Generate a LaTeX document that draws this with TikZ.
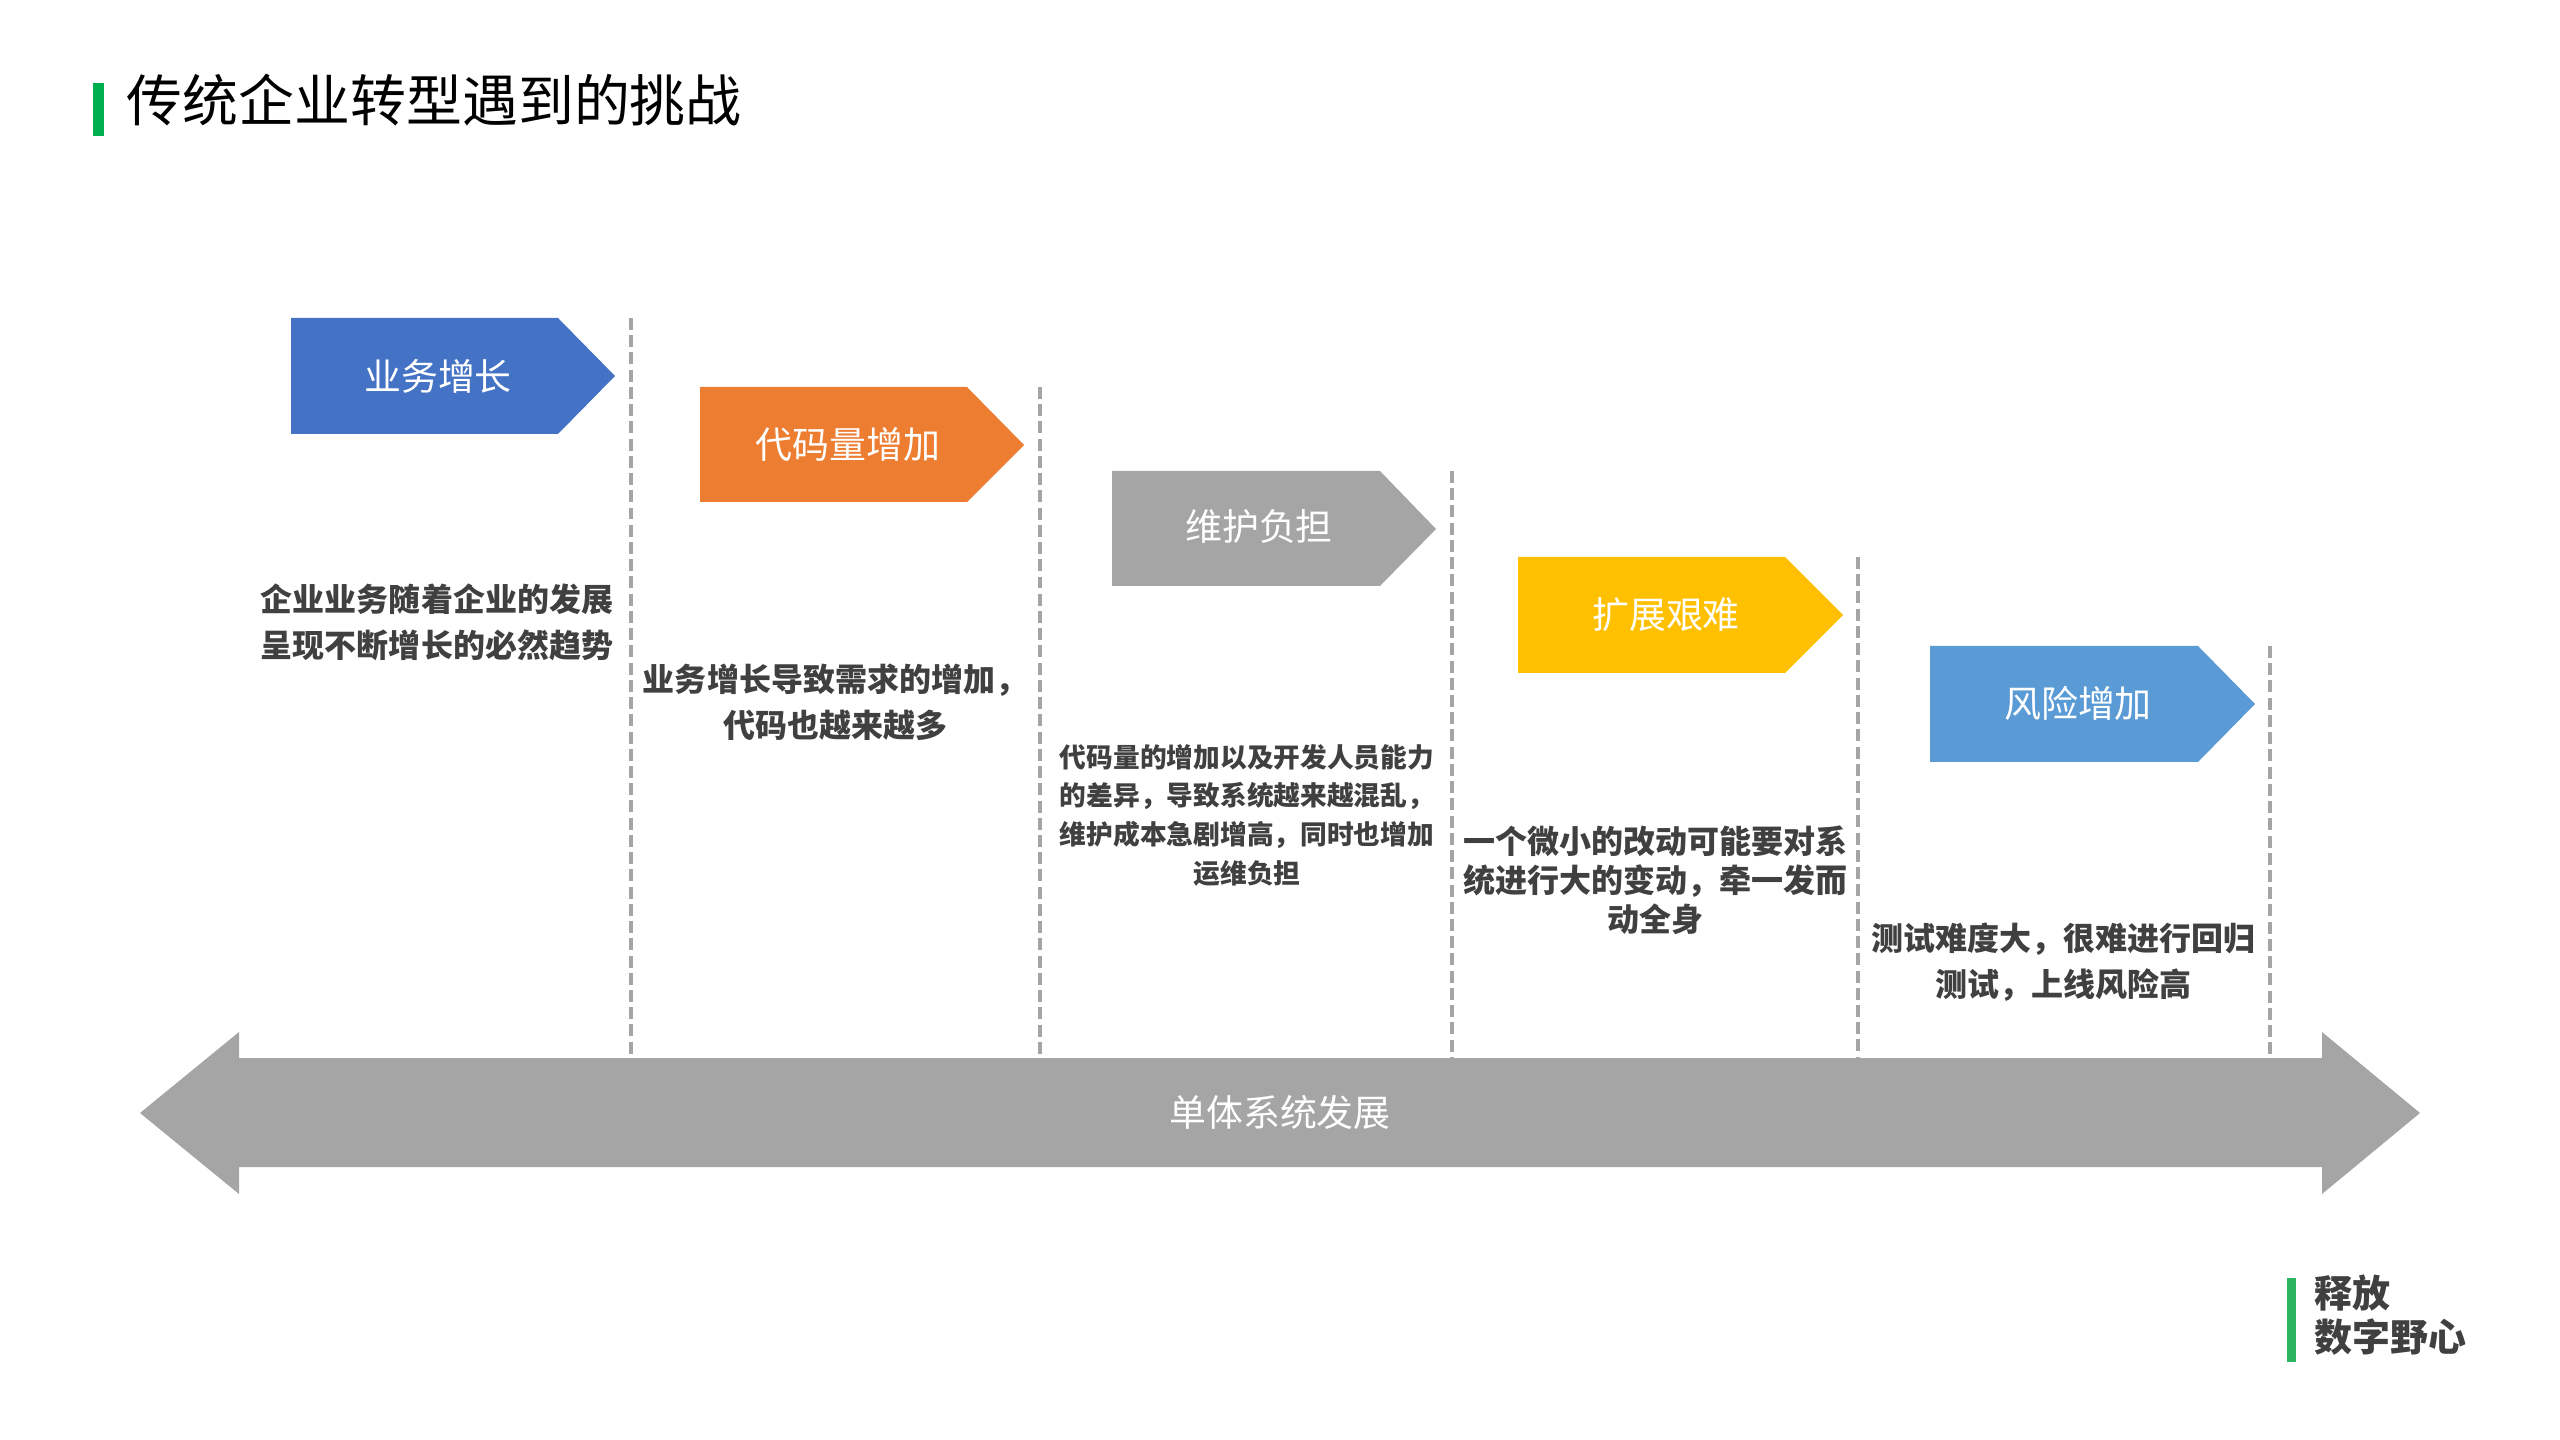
\documentclass[tikz,border=0pt]{standalone}
\usepackage{fontspec}
\usepackage{xcolor}
\setmainfont{Noto Sans CJK SC}
\definecolor{stepblue}{HTML}{4472C4}
\definecolor{steporange}{HTML}{ED7D31}
\definecolor{stepgray}{HTML}{A5A5A5}
\definecolor{stepyellow}{HTML}{FFC000}
\definecolor{stepsky}{HTML}{5B9BD5}
\definecolor{bargreen}{HTML}{00B050}
\definecolor{markgreen}{HTML}{2BB45E}
\definecolor{bodygray}{HTML}{404040}
\tikzset{
    steplabel/.style={text=white,inner sep=0pt,font=\fontsize{10.5}{12}\selectfont},
    bodytext/.style={text=bodygray,inner sep=0pt,align=center},
    bodywide/.style={bodytext,font=\fontsize{9.1}{13.1}\selectfont\bfseries},
    bodytight/.style={bodytext,font=\fontsize{9.1}{11.1}\selectfont\bfseries},
    bodysmall/.style={bodytext,font=\fontsize{7.6}{11}\selectfont\bfseries},
    separator/.style={stepgray,line width=1pt,dash pattern=on 3.4pt off 1.5pt}
}

\begin{document}
\begin{tikzpicture}[x=0.01cm,y=-0.01cm]
    \useasboundingbox (0,0) rectangle (2560,1440);
    \fill[white] (0,0) rectangle (2560,1440);

    % title
    \fill[bargreen] (93,83) rectangle (104,136);
    \node[anchor=west,inner sep=0pt,font=\fontsize{15.9}{18}\selectfont] (title) at (126,100) {传统企业转型遇到的挑战};

    % separators
    \coordinate (sepatop) at (631,318);
    \coordinate (sepabot) at (631,1058);
    \coordinate (sepbtop) at (1040,387);
    \coordinate (sepbbot) at (1040,1058);
    \coordinate (sepctop) at (1452,471);
    \coordinate (sepcbot) at (1452,1058);
    \coordinate (sepdtop) at (1858,557);
    \coordinate (sepdbot) at (1858,1058);
    \coordinate (sepetop) at (2270,646);
    \coordinate (sepebot) at (2270,1058);
    \draw[separator] (sepatop) -- (sepabot);
    \draw[separator] (sepbtop) -- (sepbbot);
    \draw[separator] (sepctop) -- (sepcbot);
    \draw[separator] (sepdtop) -- (sepdbot);
    \draw[separator] (sepetop) -- (sepebot);

    % steps
    \fill[stepblue] (291,318) -- (558,318) -- (615,376) -- (558,434) -- (291,434) -- cycle;
    \node[steplabel] (growth) at (438,376) {业务增长};
    \fill[steporange] (700,387) -- (967,387) -- (1024,445) -- (967,502) -- (700,502) -- cycle;
    \node[steplabel] (code) at (848,444) {代码量增加};
    \fill[stepgray] (1112,471) -- (1380,471) -- (1436,529) -- (1380,586) -- (1112,586) -- cycle;
    \node[steplabel] (upkeep) at (1259,527) {维护负担};
    \fill[stepyellow] (1518,557) -- (1785,557) -- (1843,615) -- (1785,673) -- (1518,673) -- cycle;
    \node[steplabel] (scale) at (1666,615) {扩展艰难};
    \fill[stepsky] (1930,646) -- (2198,646) -- (2255,704) -- (2198,762) -- (1930,762) -- cycle;
    \node[steplabel] (risk) at (2078,703) {风险增加};

    % descriptions
    \node[bodywide] (growthtext) at (437,622) {企业业务随着企业的发展\\呈现不断增长的必然趋势};
    \node[bodywide] (codetext) at (835,702) {业务增长导致需求的增加，\\代码也越来越多};
    \node[bodysmall] (upkeeptext) at (1247,815) {代码量的增加以及开发人员能力\\的差异，导致系统越来越混乱，\\维护成本急剧增高，同时也增加\\运维负担};
    \node[bodytight] (scaletext) at (1655,880) {一个微小的改动可能要对系\\统进行大的变动，牵一发而\\动全身};
    \node[bodywide] (risktext) at (2063,962) {测试难度大，很难进行回归\\测试，上线风险高};

    % timeline
    \fill[stepgray] (140,1113) -- (239,1032) -- (239,1058) -- (2322,1058) -- (2322,1032) -- (2420,1113) -- (2322,1194) -- (2322,1167) -- (239,1167) -- (239,1194) -- cycle;
    \node[steplabel] (timeline) at (1280,1112) {单体系统发展};

    % mark
    \fill[markgreen] (2287,1278) rectangle (2296,1362);
    \node[anchor=west,text=bodygray,inner sep=0pt,align=left,font=\fontsize{10.8}{12.5}\selectfont\bfseries] (mark) at (2314,1315) {释放\\数字野心};
\end{tikzpicture}
\end{document}
